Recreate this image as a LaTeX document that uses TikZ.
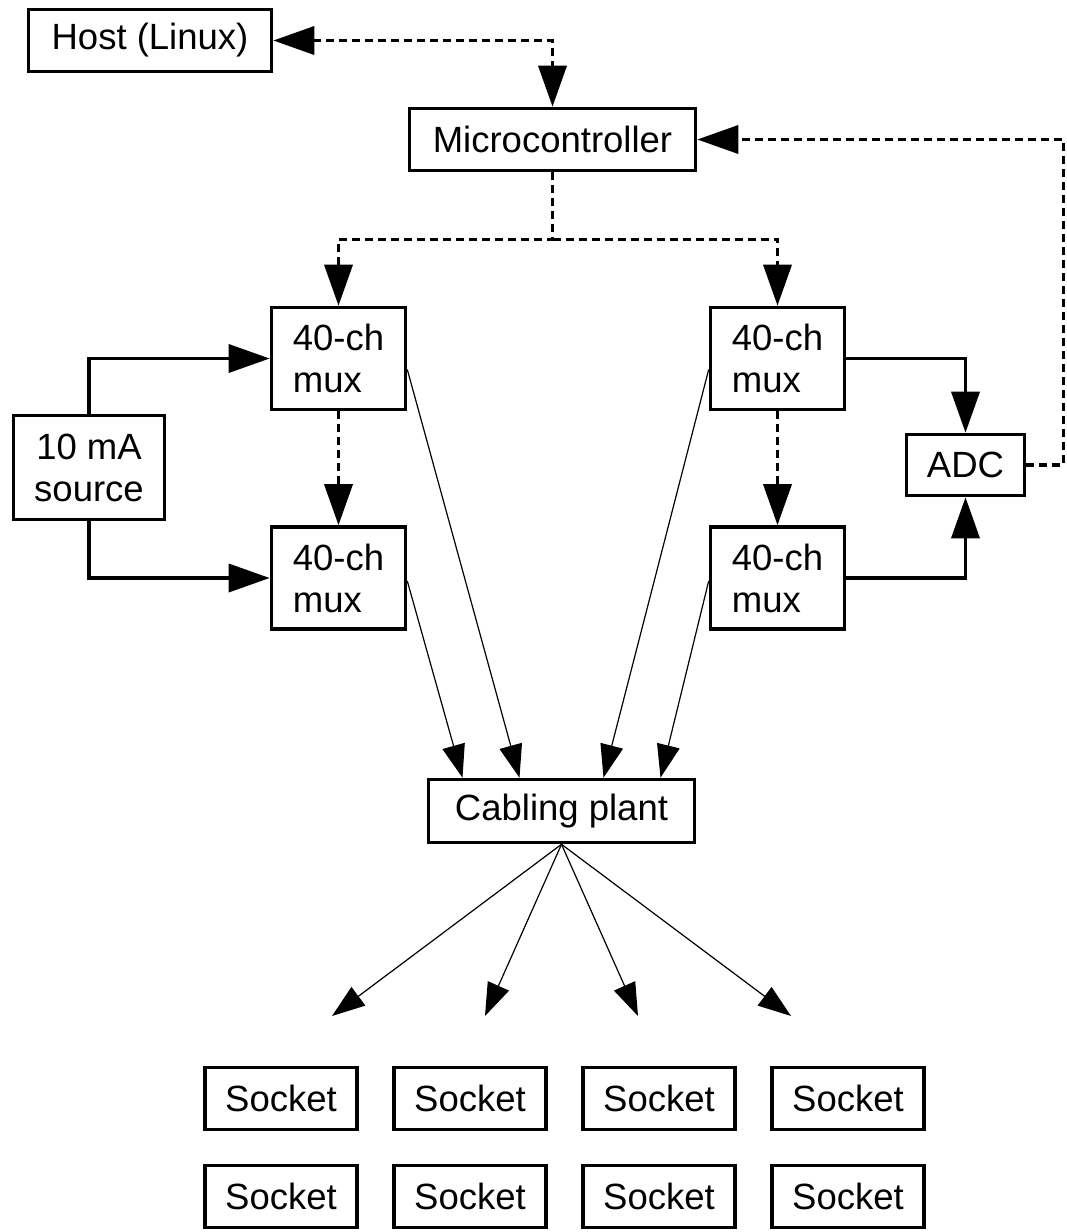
\documentclass[tikz,border=0pt]{standalone}
\usepackage{fontspec}
\setmainfont{Liberation Sans}
\usepackage{tikz}
\usetikzlibrary{arrows.meta}

\begin{document}
\begin{tikzpicture}[x=1pt,y=-1pt,
    font=\fontsize{36.5}{42}\selectfont,
    >={Triangle[length=41pt,width=28pt]},
    box/.style={draw,line width=3.6pt,inner sep=0pt,minimum height=62pt},
    muxbox/.style={box,align=left,minimum width=134pt,minimum height=102pt},
    ctl/.style={line width=3.6pt,dash pattern=on 8pt off 5pt},
    feed/.style={line width=3.6pt,->},
    wire/.style={line width=1.2pt,>={Triangle[length=33pt,width=23pt]},->}]
\useasboundingbox (0,0) rectangle (1067,1232);

\node[box,minimum width=243pt] (host) at (150,40.5) {Host (Linux)};
\node[box,minimum width=286pt] (micro) at (552.5,139.5) {Microcontroller};

\node[muxbox] (muxTL) at (338.5,358.5) {40-ch\\mux};
\node[muxbox] (muxBL) at (338.5,578) {40-ch\\mux};
\node[muxbox] (muxTR) at (777.5,358.5) {40-ch\\mux};
\node[muxbox] (muxBR) at (777.5,578) {40-ch\\mux};

\node[box,align=center,minimum width=151pt,minimum height=104pt] (src) at (89,467.5) {10 mA\\source};
\node[box,minimum width=118pt,minimum height=61pt] (adc) at (965.5,465) {ADC};

\node[box,minimum width=266pt,minimum height=63pt] (plant) at (561.5,811) {Cabling plant};

\node[box,minimum width=152pt] (sock1) at (281,1098.5) {Socket};
\node[box,minimum width=152pt] (sock2) at (470,1098.5) {Socket};
\node[box,minimum width=152pt] (sock3) at (659,1098.5) {Socket};
\node[box,minimum width=152pt] (sock4) at (848,1098.5) {Socket};
\node[box,minimum width=152pt] (sock5) at (281,1196.5) {Socket};
\node[box,minimum width=152pt] (sock6) at (470,1196.5) {Socket};
\node[box,minimum width=152pt] (sock7) at (659,1196.5) {Socket};
\node[box,minimum width=152pt] (sock8) at (848,1196.5) {Socket};

\coordinate (fan1) at (332,1016);
\coordinate (fan2) at (485,1016);
\coordinate (fan3) at (638,1016);
\coordinate (fan4) at (791,1016);

% control lines
\draw[ctl,<->] (host.east) -| (micro.north);
\draw[ctl,->] (micro.south) -- ++(0,67) coordinate (split) -| (muxTL.north);
\draw[ctl,->] (split) -| (muxTR.north);
\draw[ctl,->] (muxTL.south) -- (muxBL.north);
\draw[ctl,->] (muxTR.south) -- (muxBR.north);
\draw[ctl,->] (adc.east) -- ++(37,0) |- (micro.east);

% current and measurement
\draw[feed] (src.north) |- (muxTL.west);
\draw[feed] (src.south) |- (muxBL.west);
\draw[feed] (muxTR.east) -| (adc.north);
\draw[feed] (muxBR.east) -| (adc.south);

% wiring
\draw[wire] ([yshift=-11pt]muxTL.east) -- ([xshift=-42pt]plant.north);
\draw[wire] ([yshift=-3pt]muxBL.east) -- ([xshift=-99pt]plant.north);
\draw[wire] ([yshift=-11pt]muxTR.west) -- ([xshift=42pt]plant.north);
\draw[wire] ([yshift=-3pt]muxBR.west) -- ([xshift=99pt]plant.north);
\draw[wire] (plant.south) -- (fan1);
\draw[wire] (plant.south) -- (fan2);
\draw[wire] (plant.south) -- (fan3);
\draw[wire] (plant.south) -- (fan4);
\end{tikzpicture}
\end{document}
